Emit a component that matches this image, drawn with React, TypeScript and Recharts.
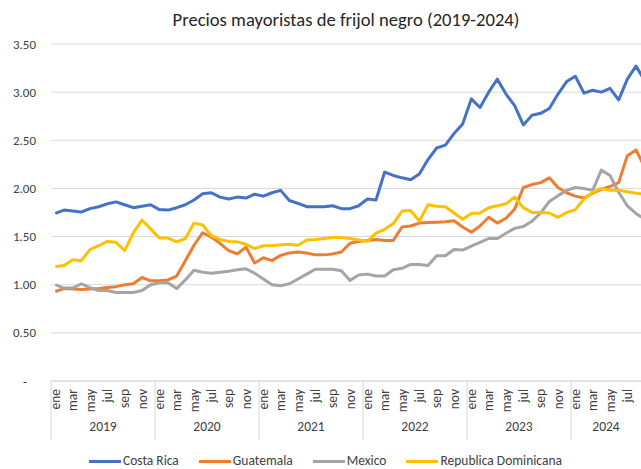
import React from 'react'
import { LineChart, Line, XAxis, YAxis, CartesianGrid, Legend } from 'recharts'

// monthly wholesale prices, ene 2019 – sep 2024
const YEARS = [2019, 2020, 2021, 2022, 2023, 2024]
const MONTHS = ['ene', 'feb', 'mar', 'abr', 'may', 'jun', 'jul', 'ago', 'sep', 'oct', 'nov', 'dic']

const COSTA_RICA = [
  1.74, 1.775, 1.765, 1.755, 1.79, 1.81, 1.84, 1.86, 1.83, 1.8, 1.815, 1.83,
  1.78, 1.775, 1.8, 1.83, 1.88, 1.945, 1.955, 1.91, 1.89, 1.91, 1.9, 1.94,
  1.92, 1.955, 1.98, 1.875, 1.845, 1.81, 1.81, 1.81, 1.82, 1.79, 1.79, 1.82,
  1.89, 1.88, 2.17, 2.135, 2.11, 2.09, 2.15, 2.3, 2.42, 2.45, 2.57, 2.67,
  2.93, 2.84, 3.0, 3.135, 2.98, 2.86, 2.66, 2.76, 2.78, 2.83, 2.98, 3.11,
  3.165, 2.99, 3.02, 3.0, 3.04, 2.92, 3.135, 3.27, 3.12,
]
const GUATEMALA = [
  0.93, 0.96, 0.955, 0.95, 0.955, 0.96, 0.97, 0.98, 1.0, 1.01, 1.075, 1.04,
  1.04, 1.05, 1.09, 1.25, 1.41, 1.54, 1.495, 1.43, 1.355, 1.32, 1.39, 1.225,
  1.28, 1.25, 1.305, 1.33, 1.34, 1.33, 1.31, 1.31, 1.32, 1.34, 1.43, 1.45,
  1.46, 1.47, 1.46, 1.46, 1.6, 1.61, 1.64, 1.645, 1.65, 1.655, 1.665, 1.6,
  1.545, 1.61, 1.7, 1.64, 1.69, 1.785, 2.01, 2.04, 2.06, 2.11, 2.01, 1.955,
  1.92, 1.9, 1.95, 1.99, 2.02, 2.06, 2.34, 2.4, 2.22,
]
const MEXICO = [
  1.0, 0.965, 0.965, 1.01, 0.97, 0.94, 0.94, 0.92, 0.92, 0.92, 0.94, 1.0,
  1.02, 1.02, 0.96, 1.05, 1.15, 1.13, 1.12, 1.13, 1.14, 1.155, 1.165, 1.12,
  1.06, 1.0, 0.99, 1.01, 1.06, 1.11, 1.16, 1.16, 1.16, 1.145, 1.045, 1.1,
  1.11, 1.09, 1.09, 1.155, 1.17, 1.21, 1.21, 1.2, 1.3, 1.3, 1.365, 1.36,
  1.4, 1.44, 1.48, 1.48, 1.535, 1.585, 1.605, 1.66, 1.745, 1.865, 1.925, 1.98,
  2.01, 2.0, 1.98, 2.19, 2.135, 1.96, 1.82, 1.74, 1.68,
]
const REP_DOMINICANA = [
  1.19, 1.2, 1.26, 1.25, 1.365, 1.405, 1.45, 1.44, 1.355, 1.54, 1.67, 1.58,
  1.485, 1.485, 1.445, 1.48, 1.64, 1.62, 1.51, 1.47, 1.45, 1.445, 1.42, 1.375,
  1.405, 1.405, 1.415, 1.42, 1.41, 1.465, 1.47, 1.48, 1.49, 1.49, 1.48, 1.465,
  1.45, 1.535, 1.575, 1.635, 1.765, 1.77, 1.66, 1.83, 1.815, 1.81, 1.745, 1.68,
  1.74, 1.745, 1.8, 1.82, 1.84, 1.91, 1.8, 1.75, 1.75, 1.745, 1.7, 1.75,
  1.78, 1.89, 1.96, 2.0, 1.98, 1.98, 1.965, 1.95, 1.94,
]
const Y_TICKS = [0, 0.5, 1, 1.5, 2, 2.5, 3, 3.5]

const SERIES = [
  { key: 'costaRica', name: 'Costa Rica', color: '#4472C4' },
  { key: 'guatemala', name: 'Guatemala', color: '#ED7D31' },
  { key: 'mexico', name: 'Mexico', color: '#A5A5A5' },
  { key: 'repDominicana', name: 'Republica Dominicana', color: '#FFC000' },
]

const data = COSTA_RICA.map((v, i) => ({
  idx: i,
  costaRica: v,
  guatemala: GUATEMALA[i],
  mexico: MEXICO[i],
  repDominicana: REP_DOMINICANA[i],
}))

const FONT = 'Calibri, Carlito, Lato, sans-serif'
const VIEW_W = 641
const VIEW_H = 469
const CHART_W = 660
const Y_AXIS_W = 51
const RIGHT_MARGIN = 11
const BAND = (CHART_W - Y_AXIS_W - RIGHT_MARGIN) / data.length
const GRID = '#D9D9D9'
const TEXT = '#404040'

function MonthTick(props: any) {
  const { x, y, payload } = props
  const i = payload.value as number
  const month = i % 12
  const start = x - BAND / 2
  const nodes: React.ReactNode[] = []
  // the last month sits past the visible edge, its label is not shown
  if (month % 2 === 0 && x + 7 < VIEW_W) {
    nodes.push(
      <text
        key="m"
        x={x}
        y={y + 8}
        transform={`rotate(-90 ${x} ${y + 8})`}
        textAnchor="end"
        dy="0.35em"
        fill={TEXT}
        fontSize={13.5}
        fontFamily={FONT}
      >
        {MONTHS[month]}
      </text>
    )
  }
  if (month === 0) {
    const n = Math.min(12, data.length - i)
    const end = Math.min(start + n * BAND, VIEW_W)
    nodes.push(<line key="s" x1={start} x2={start} y1={y} y2={y + 59} stroke={GRID} />)
    nodes.push(
      <text
        key="y"
        x={(start + end) / 2}
        y={y + 50}
        textAnchor="middle"
        fill={TEXT}
        fontSize={13.5}
        fontFamily={FONT}
      >
        {YEARS[Math.floor(i / 12)]}
      </text>
    )
  }
  return <g>{nodes}</g>
}

function ValueTick(props: any) {
  const { x, y, payload } = props
  const v = payload.value as number
  return (
    <text
      x={v === 0 ? x - 9 : x}
      y={y}
      dy="0.355em"
      textAnchor="end"
      fill={TEXT}
      fontSize={13}
      fontFamily={FONT}
    >
      {v === 0 ? '-' : v.toFixed(2)}
    </text>
  )
}

function LegendContent() {
  return (
    <div
      style={{
        height: 28,
        display: 'flex',
        justifyContent: 'center',
        alignItems: 'flex-end',
        paddingLeft: 22,
        boxSizing: 'border-box',
        fontFamily: FONT,
        fontSize: 13.5,
        color: TEXT,
      }}
    >
      {SERIES.map((s) => (
        <div
          key={s.key}
          style={{ display: 'flex', alignItems: 'center', marginRight: 20, lineHeight: '16px' }}
        >
          <span
            style={{
              display: 'inline-block',
              width: 32,
              height: 3,
              background: s.color,
              marginRight: 2,
            }}
          />
          {s.name}
        </div>
      ))}
    </div>
  )
}

export default function App() {
  return (
    <div
      style={{
        position: 'absolute',
        left: 0,
        top: 0,
        width: VIEW_W,
        height: VIEW_H,
        overflow: 'hidden',
        background: '#fff',
      }}
    >
      <div
        style={{
          position: 'absolute',
          top: 8,
          left: 346 - 250,
          width: 500,
          textAlign: 'center',
          fontFamily: FONT,
          fontSize: 18.6,
          color: '#262626',
        }}
      >
        Precios mayoristas de frijol negro (2019-2024)
      </div>
      <LineChart
        width={CHART_W}
        height={VIEW_H}
        data={data}
        margin={{ top: 44, right: RIGHT_MARGIN, bottom: 0, left: 0 }}
      >
        <CartesianGrid horizontal vertical={false} stroke={GRID} />
        <XAxis
          dataKey="idx"
          type="category"
          interval={0}
          height={60}
          padding={{ left: BAND / 2, right: BAND / 2 }}
          tickLine={false}
          tickSize={0}
          tickMargin={0}
          axisLine={{ stroke: GRID }}
          tick={<MonthTick />}
        />
        <YAxis
          domain={[0, 3.5]}
          ticks={Y_TICKS}
          width={Y_AXIS_W}
          axisLine={false}
          tickLine={false}
          tickSize={6}
          tickMargin={9}
          tick={<ValueTick />}
        />
        <Legend verticalAlign="bottom" content={<LegendContent />} />
        {SERIES.map((s) => (
          <Line
            key={s.key}
            type="linear"
            dataKey={s.key}
            name={s.name}
            stroke={s.color}
            strokeWidth={3}
            strokeLinejoin="round"
            dot={false}
            isAnimationActive={false}
          />
        ))}
      </LineChart>
    </div>
  )
}
